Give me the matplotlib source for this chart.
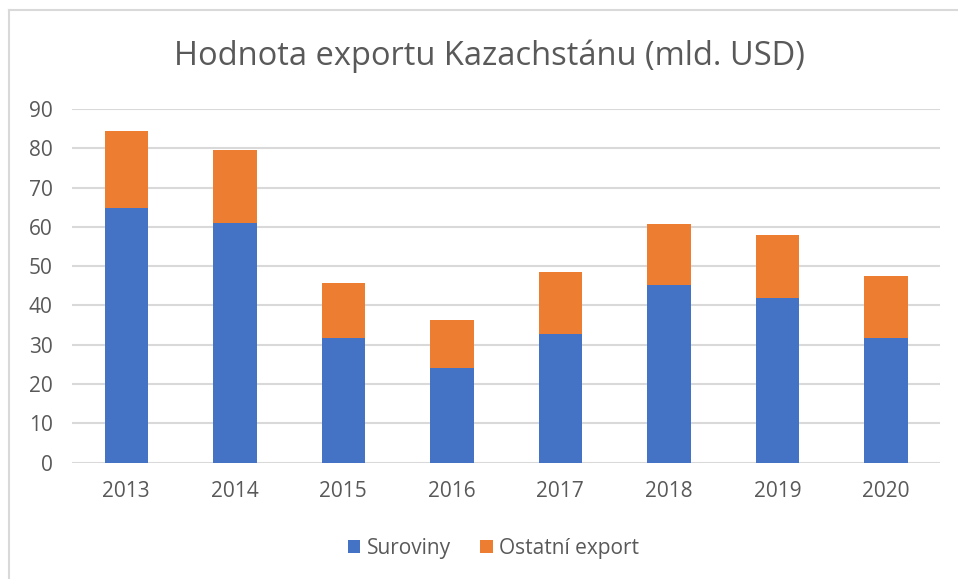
import matplotlib
matplotlib.use("Agg")
from matplotlib import pyplot as plt
from matplotlib.lines import Line2D
import numpy as np

# Hodnota exportu Kazachstanu (mld. USD)

years = ['2013', '2014', '2015', '2016', '2017', '2018', '2019', '2020']
suroviny = [64.9, 60.9, 31.8, 24.0, 32.8, 45.2, 42.0, 31.8]
ostatni = [19.5, 18.7, 14.0, 12.3, 15.6, 15.6, 15.9, 15.7]

blue = '#4472C4'
orange = '#ED7D31'
grey_txt = '#595959'

plt.rcParams['font.family'] = ['Open Sans', 'DejaVu Sans']

fig = plt.figure(figsize=(9.58, 5.79), dpi=100)
ax = fig.add_axes([0.0752, 0.2009, 0.9061, 0.6108])

x = np.arange(len(years))
ax.bar(x, suroviny, width=0.4, color=blue, label='Suroviny', zorder=3)
ax.bar(x, ostatni, width=0.4, bottom=suroviny, color=orange,
       label='Ostatní export', zorder=3)

ax.set_xlim(-0.5, len(years) - 0.5)
ax.set_ylim(0, 90)
ax.set_yticks(range(0, 91, 10))
ax.set_xticks(x)
ax.set_xticklabels(years)
ax.grid(axis='y', color='#D9D9D9', linewidth=1.5, zorder=0)
for s in ['top', 'right', 'left', 'bottom']:
    ax.spines[s].set_visible(False)
ax.tick_params(length=0, labelsize=15, colors=grey_txt)
ax.tick_params(axis='x', pad=13)
ax.tick_params(axis='y', pad=14)

fig.text(0.5104, 0.903, 'Hodnota exportu Kazachstánu (mld. USD)',
         ha='center', va='center', fontsize=23.5, color=grey_txt)

leg = fig.legend(loc='center', bbox_to_anchor=(0.515, 0.0535), ncol=2,
                 frameon=False, fontsize=15, handlelength=0.6, handleheight=0.6,
                 handletextpad=0.3, columnspacing=1.4)
for t in leg.get_texts():
    t.set_color(grey_txt)

# light frame visible at top and left
fig.add_artist(Line2D([9 / 958, 9 / 958], [0, 1 - 10 / 579], color='#D9D9D9', lw=1.5))
fig.add_artist(Line2D([9 / 958, 1], [1 - 10 / 579, 1 - 10 / 579], color='#D9D9D9', lw=1.5))

fig.savefig('out.png', dpi=100)
